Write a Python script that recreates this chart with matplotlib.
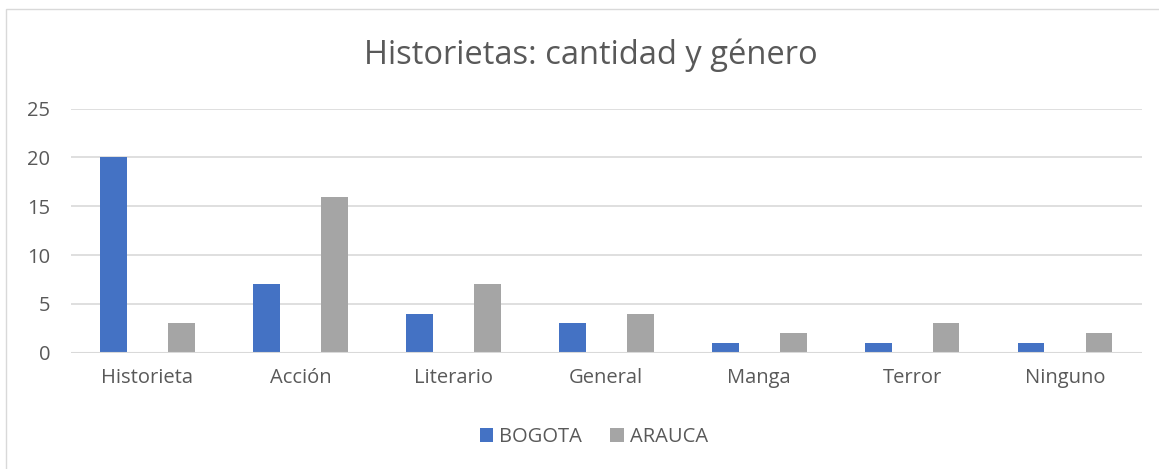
import matplotlib
matplotlib.use("Agg")
import matplotlib.pyplot as plt
import numpy as np
from matplotlib.patches import Rectangle

categories = ["Historieta", "Acción", "Literario", "General", "Manga", "Terror", "Ninguno"]
bogota = [20, 7, 4, 3, 1, 1, 1]
arauca = [3, 16, 7, 4, 2, 3, 2]
series_names = ["BOGOTA", "ARAUCA"]
yticks = [0, 5, 10, 15, 20, 25]

plt.rcParams['font.family'] = ['Open Sans', 'DejaVu Sans']
txt = '#595959'
W, H = 1159, 469
fig = plt.figure(figsize=(W/100, H/100), dpi=100)
fig.patches.append(Rectangle((6/W, -0.05), 1.2, (H-9.5)/H + 0.05, transform=fig.transFigure,
                             fill=False, edgecolor='#D9D9D9', lw=1.0))
ax = fig.add_axes([71/W, 1-352.7/H, (1141.5-71)/W, (352.7-108.7)/H])
x = np.arange(len(categories))
bw = 0.175
off = 0.222
ax.bar(x - off, bogota, bw, color='#4472C4', label=series_names[0], zorder=3)
ax.bar(x + off, arauca, bw, color='#A5A5A5', label=series_names[1], zorder=3)
ax.set_xlim(-0.5, len(categories) - 0.5)
ax.set_ylim(0, 25)
ax.set_yticks(yticks)
ax.set_xticks(x)
ax.set_xticklabels(categories)
for s in ax.spines.values():
    s.set_visible(False)
ax.grid(axis='y', color='#D9D9D9', lw=1.2, zorder=0)
ax.axhline(0, color='#D9D9D9', lw=1.5, zorder=4)
ax.tick_params(axis='both', length=0, labelsize=14.5, colors=txt)
ax.tick_params(axis='x', pad=11)
ax.tick_params(axis='y', pad=15)
fig.text(591/W, 1-55/H, "Historietas: cantidad y género", ha='center', va='center',
         fontsize=23.5, color=txt)
fig.legend(loc='center', bbox_to_anchor=(594/W, 1-437/H), ncol=2, frameon=False,
           fontsize=14.5, labelcolor=txt, handlelength=0.65, handleheight=0.65,
           handletextpad=0.3, columnspacing=1.4)
fig.savefig("out.png", dpi=100)
